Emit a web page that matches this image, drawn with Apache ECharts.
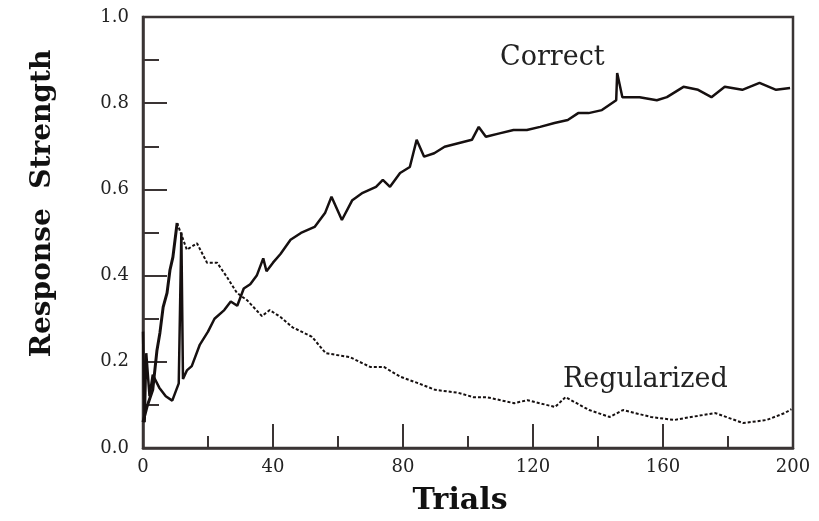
<!DOCTYPE html>
<html>
<head>
<meta charset="utf-8">
<title>Response Strength</title>
<script src="https://cdn.jsdelivr.net/npm/echarts@6/dist/echarts.min.js"></script>
<style>
  html, body { margin: 0; padding: 0; background: #fff; }
  #tu { width: 819px; height: 521px; }
</style>
</head>
<body>
<div id="tu"></div>
<script>
// 数据
var xTicks = [0, 40, 80, 120, 160, 200];
var yTicks = ['0.0', '0.2', '0.4', '0.6', '0.8', '1.0'];

var correctTrials = [0, 0.5, 1, 2, 3, 5, 7, 9, 11, 11.8, 12.3, 13.5, 15, 17.5, 20, 22, 25, 27, 29, 31, 33, 35, 37, 38, 40, 42.3,
  45.4, 48.6, 52.8, 56, 58, 61.2, 64.4, 67.6, 71.7, 73.8, 76, 79.1, 82.1, 84.2, 86.5, 89.6, 92.8, 97, 101.2, 103.3, 105.5,
  109.7, 114, 118.1, 122.2, 126.6, 130.7, 133.9, 137.1, 141.2, 145.6, 145.9, 147.5, 152.8, 158.1, 161.2, 166.3, 170.8,
  174.9, 179, 184.4, 189.7, 194.8, 199.1];
var correctStrength = [0.27, 0.06, 0.22, 0.12, 0.17, 0.14, 0.12, 0.11, 0.15, 0.50, 0.16, 0.18, 0.19, 0.24, 0.27, 0.30, 0.32, 0.34, 0.33, 0.37, 0.38, 0.40, 0.44, 0.41, 0.43, 0.45,
  0.483, 0.499, 0.513, 0.545, 0.583, 0.529, 0.575, 0.592, 0.606, 0.622, 0.606, 0.638, 0.652, 0.715, 0.676, 0.684, 0.699, 0.707, 0.715, 0.745, 0.722,
  0.730, 0.738, 0.738, 0.745, 0.754, 0.761, 0.777, 0.777, 0.784, 0.807, 0.870, 0.814, 0.814, 0.807, 0.814, 0.838, 0.831,
  0.814, 0.838, 0.831, 0.847, 0.831, 0.835];

// early rise of regularized (solid part)
var regRiseTrials = [0, 1.2, 3, 4.3, 5.2, 6.2, 7.4, 8.3, 9.2, 10.5];
var regRiseStrength = [0.06, 0.095, 0.135, 0.227, 0.267, 0.327, 0.36, 0.413, 0.443, 0.522];

// decay of regularized (dotted part)
var regTrials = [10.5, 13.5, 16.6, 19.7, 22.8, 25.8, 28.9, 32, 36.6, 39, 42.3, 46, 52, 56.2, 63.6, 69.9, 74.1, 79.3, 84.4, 89.9,
  97.1, 101.6, 105.7, 114.2, 118.3, 126.8, 130, 137.3, 143.6, 147.7, 156.3, 163.5, 168.6, 176.1, 184.6, 191.9, 197.4, 199.5];
var regStrength = [0.522, 0.46, 0.475, 0.43, 0.43, 0.397, 0.36, 0.343, 0.306, 0.32, 0.304, 0.28, 0.258, 0.22, 0.211, 0.188, 0.188, 0.165, 0.151, 0.135,
  0.128, 0.118, 0.118, 0.104, 0.111, 0.095, 0.118, 0.088, 0.072, 0.088, 0.072, 0.065, 0.072, 0.081, 0.058, 0.065, 0.081, 0.09];

function pairs(xs, ys) {
  var out = [];
  for (var i = 0; i < xs.length; i++) out.push([xs[i], ys[i]]);
  return out;
}

var frameColor = '#3a3434';
var inkColor = '#161010';
var serif = 'DejaVu Serif';

var myChart = echarts.init(document.getElementById('tu'));
var option = {
  animation: false,
  backgroundColor: '#fff',
  grid: {
    left: 143, right: 26, top: 17, bottom: 73,
    show: true,
    borderColor: frameColor,
    borderWidth: 2.5
  },
  xAxis: {
    type: 'value',
    min: xTicks[0],
    max: xTicks[xTicks.length - 1],
    interval: 40,
    name: 'Trials',
    nameLocation: 'middle',
    nameGap: 38,
    nameTextStyle: { fontFamily: serif, fontWeight: 'bold', fontSize: 30, color: '#111', padding: [0, 16, 0, 0], verticalAlign: 'top' },
    axisLine: { lineStyle: { color: frameColor, width: 2.5 } },
    axisTick: { inside: true, length: 24, lineStyle: { color: frameColor, width: 2 } },
    minorTick: { show: true, splitNumber: 2, length: 12, lineStyle: { color: frameColor, width: 2 } },
    splitLine: { show: false },
    axisLabel: { margin: 10, fontFamily: serif, fontSize: 18, color: '#222' }
  },
  yAxis: {
    type: 'value',
    min: 0,
    max: 1,
    interval: 0.2,
    name: 'Response  Strength',
    nameLocation: 'middle',
    nameGap: 86,
    nameTextStyle: { fontFamily: serif, fontWeight: 'bold', fontSize: 28, color: '#111', padding: [0, 0, 0, 58] },
    axisLine: { lineStyle: { color: frameColor, width: 2.5 } },
    axisTick: { inside: true, length: 24, lineStyle: { color: frameColor, width: 2 } },
    minorTick: { show: true, splitNumber: 2, length: 16, lineStyle: { color: frameColor, width: 2 } },
    splitLine: { show: false },
    axisLabel: {
      margin: 14, fontFamily: serif, fontSize: 18, color: '#222',
      formatter: function (v) { return yTicks[Math.round(v * 5)]; }
    }
  },
  series: [
    {
      name: 'Correct',
      type: 'line',
      showSymbol: false,
      data: pairs(correctTrials, correctStrength),
      lineStyle: { color: inkColor, width: 2.5 }
    },
    {
      name: 'Regularized',
      type: 'line',
      showSymbol: false,
      data: pairs(regRiseTrials, regRiseStrength),
      lineStyle: { color: inkColor, width: 3 }
    },
    {
      name: 'Regularized',
      type: 'line',
      showSymbol: false,
      data: pairs(regTrials, regStrength),
      lineStyle: { color: inkColor, width: 2, type: [3, 2] }
    }
  ],
  // 曲线标注
  graphic: [
    { type: 'text', left: 500, top: 44, style: { text: 'Correct', fontFamily: serif, fontSize: 27, fill: '#222' } },
    { type: 'text', left: 563, top: 366, style: { text: 'Regularized', fontFamily: serif, fontSize: 27, fill: '#222' } }
  ]
};
myChart.setOption(option);
</script>
</body>
</html>
